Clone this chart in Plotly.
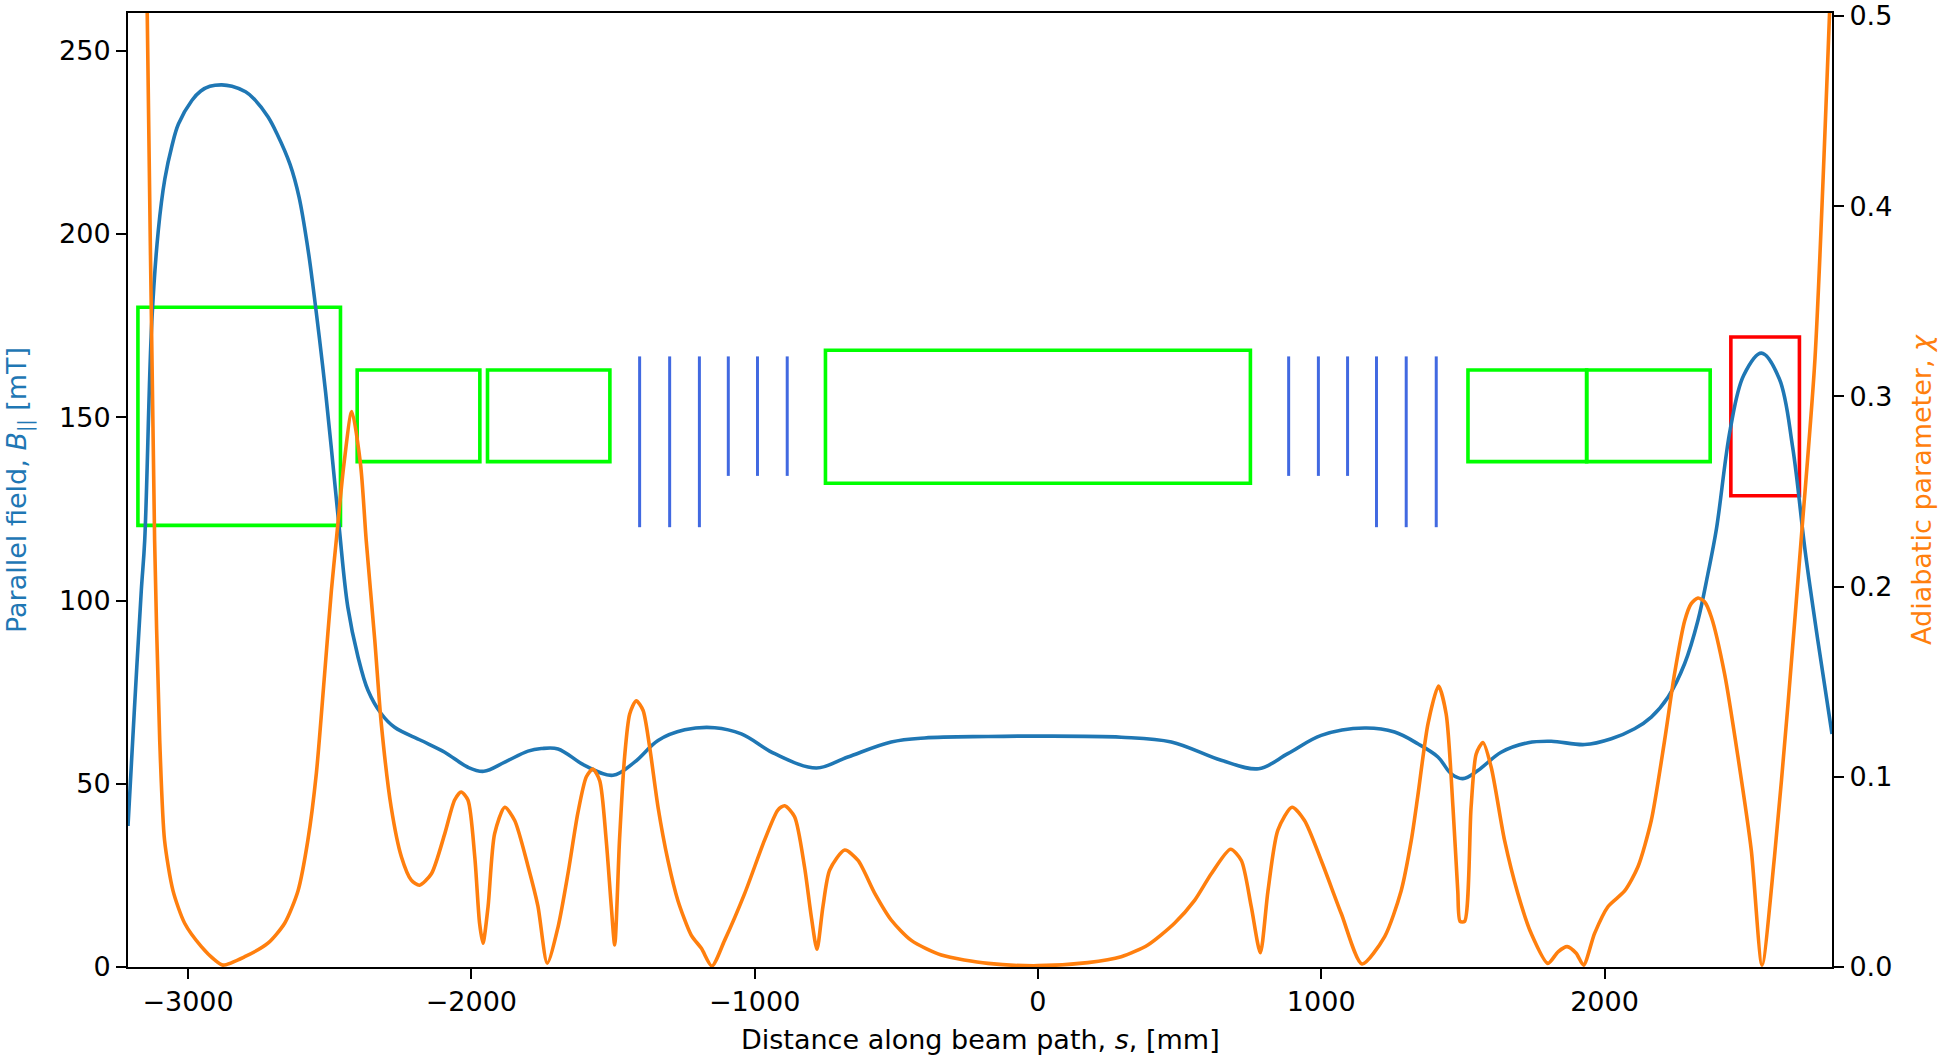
import plotly.graph_objects as go

# ---- Parallel magnetic field along the beam path ----
s_field = [-3212, -3189, -3165, -3153, -3128, -3105, -3082, -3057, -3034, -2986,
           -2955, -2923, -2881, -2845, -2797, -2766, -2718, -2687, -2640, -2608,
           -2577, -2561, -2514, -2468, -2436, -2400, -2365, -2318, -2271,
           -2177, -2094, -2012, -1956, -1882, -1800, -1753, -1694, -1600, -1500,
           -1424, -1341, -1247, -1141, -1047, -929, -782, -671, -518, -400,
           -176, 0, 294, 471, 647, 779, 882, 1000, 1153, 1259,
           1341, 1412, 1459, 1500, 1553, 1635, 1730, 1812, 1930, 2024,
           2106, 2165, 2224, 2283, 2330, 2365, 2395, 2444, 2491, 2554,
           2617, 2664, 2709, 2753, 2803]
b_field = [38.5, 70.9, 102.8, 116.4, 176.0, 201.0, 215.0, 224.0, 230.0, 236.5,
           239.0, 240.3, 240.7, 240.3, 238.8, 236.8, 232.0, 227.5, 219.0, 210.0,
           196.0, 187.0, 156.5, 121.0, 98.2, 84.6, 75.5, 69.1, 65.4,
           61.8, 58.6, 54.5, 53.4, 55.9, 58.9, 59.6, 59.5, 55.0, 52.3,
           55.9, 61.8, 64.7, 65.3, 63.6, 58.2, 54.3, 57.3, 61.4, 62.5,
           62.9, 63.0, 62.7, 61.4, 56.4, 54.1, 58.2, 63.2, 65.2, 64.1,
           60.9, 57.3, 52.7, 51.4, 53.6, 58.6, 61.2, 61.6, 60.7, 62.3,
           65.0, 68.2, 73.6, 82.8, 94.6, 107.3, 119.5, 146.8, 161.4, 167.5,
           160.5, 141.9, 113.0, 89.1, 63.6]

# ---- Adiabatic parameter along the beam path ----
s_chi = [-3212, -3144, -3118, -3100, -3083, -3053, -3012, -2953, -2906, -2877,
         -2800, -2718, -2659, -2612, -2577, -2547, -2518, -2494, -2477, -2450,
         -2422, -2391, -2371, -2341, -2318, -2283, -2247, -2212, -2183, -2141,
         -2094, -2059, -2036, -2012, -1988, -1971, -1959, -1941, -1918, -1882,
         -1847, -1800, -1765, -1732, -1694, -1659, -1624, -1594, -1571, -1547,
         -1524, -1506, -1494, -1477, -1459, -1441, -1418, -1394, -1371, -1341,
         -1306, -1271, -1224, -1188, -1151, -1106, -1035, -965, -918, -894,
         -859, -824, -800, -780, -759, -735, -682, -635, -576, -518,
         -447, -341, -176, 0, 176, 294, 388, 482, 553, 612,
         680, 718, 753, 785, 812, 847, 897, 941, 1000, 1071,
         1144, 1224, 1282, 1318, 1341, 1377, 1414, 1441, 1465, 1482,
         1490, 1506, 1529, 1547, 1571, 1600, 1647, 1694, 1741, 1800,
         1836, 1868, 1900, 1926, 1965, 2012, 2071, 2118, 2165, 2212,
         2247, 2283, 2306, 2330, 2353, 2377, 2424, 2471, 2518, 2556, 2600, 2647,
         2694, 2743, 2794, 2803]
chi = [1.19, 0.50, 0.224, 0.119, 0.0667, 0.040, 0.023, 0.0107, 0.0037, 0.001,
       0.0054, 0.0125, 0.023, 0.040, 0.0667, 0.102, 0.154, 0.198, 0.224, 0.264,
       0.292, 0.264, 0.224, 0.172, 0.128, 0.084, 0.058, 0.0457, 0.043, 0.049,
       0.070, 0.0878, 0.092, 0.0878, 0.058, 0.023, 0.0125, 0.0317, 0.070, 0.084,
       0.077, 0.053, 0.032, 0.002, 0.021, 0.049, 0.081, 0.100, 0.104, 0.098,
       0.0667, 0.0317, 0.0116, 0.0667, 0.1105, 0.133, 0.140, 0.135, 0.116, 0.084,
       0.056, 0.035, 0.0168, 0.0098, 0.0005, 0.014, 0.0387, 0.0667, 0.0825, 0.0848,
       0.079, 0.0527, 0.0264, 0.0093, 0.0317, 0.051, 0.0615, 0.056, 0.0387, 0.0247,
       0.014, 0.0063, 0.0019, 0.0007, 0.0023, 0.0054, 0.0116, 0.023, 0.035, 0.049,
       0.0619, 0.056, 0.0317, 0.0075, 0.040, 0.072, 0.084, 0.077, 0.056, 0.028,
       0.0016, 0.016, 0.040, 0.0667, 0.090, 0.128, 0.1477, 0.133, 0.084, 0.040,
       0.024, 0.024, 0.084, 0.112, 0.118, 0.105, 0.0667, 0.0387, 0.0177, 0.0019,
       0.008, 0.0107, 0.0072, 0.001, 0.0177, 0.0317, 0.040, 0.0527, 0.077, 0.119,
       0.154, 0.182, 0.191, 0.194, 0.192, 0.184, 0.154, 0.1105, 0.0615, 0.001, 0.058, 0.137,
       0.2244, 0.32, 0.50, 0.54]

# ---- Beamline elements (extent along s, and vertical extent in mT units) ----
solenoid_s0 = [-3177, -2403, -1943, -750, 1518, 1937]
solenoid_s1 = [-2462, -1970, -1511, 750, 1937, 2373]
solenoid_b0 = [120.5, 137.9, 137.9, 132.0, 137.9, 137.9]
solenoid_b1 = [180.0, 162.9, 162.9, 168.3, 162.9, 162.9]

target_s = [2446, 2688]
target_b = [128.6, 171.9]

coil_s = [-1406, -1300, -1195, -1093, -990, -885, 885, 990, 1093, 1195, 1300, 1406]
coil_b0 = [120.0, 120.0, 120.0, 134.0, 134.0, 134.0, 134.0, 134.0, 134.0, 120.0, 120.0, 120.0]
coil_b1 = [166.6] * 12

FONT = "DejaVu Sans"
FS = 27
BLUE = "#1f77b4"
ORANGE = "#ff7f0e"

fig = go.Figure()

fig.add_trace(go.Scatter(
    x=s_field, y=b_field, mode="lines", yaxis="y",
    line=dict(color=BLUE, width=3.6, shape="spline", smoothing=1.0),
    showlegend=False, hoverinfo="skip"))

fig.add_trace(go.Scatter(
    x=s_chi, y=chi, mode="lines", yaxis="y2",
    line=dict(color=ORANGE, width=3.6, shape="spline", smoothing=0.7),
    showlegend=False, hoverinfo="skip"))

shapes = []
for x0, x1, y0, y1 in zip(solenoid_s0, solenoid_s1, solenoid_b0, solenoid_b1):
    shapes.append(dict(type="rect", xref="x", yref="y", x0=x0, x1=x1, y0=y0, y1=y1,
                       line=dict(color="#00ff00", width=3.6), fillcolor="rgba(0,0,0,0)",
                       layer="below"))
shapes.append(dict(type="rect", xref="x", yref="y",
                   x0=target_s[0], x1=target_s[1], y0=target_b[0], y1=target_b[1],
                   line=dict(color="#ff0000", width=3.6), fillcolor="rgba(0,0,0,0)",
                   layer="below"))
for xc, y0, y1 in zip(coil_s, coil_b0, coil_b1):
    shapes.append(dict(type="line", xref="x", yref="y", x0=xc, x1=xc, y0=y0, y1=y1,
                       line=dict(color="#4169e1", width=3), layer="below"))

axis_common = dict(
    showline=True, linecolor="black", linewidth=2,
    ticks="outside", ticklen=10, tickwidth=2, tickcolor="black",
    showgrid=False, zeroline=False, automargin=False,
    tickfont=dict(family=FONT, size=FS, color="black"),
)

fig.update_layout(
    width=1939, height=1056,
    margin=dict(l=128, r=107, t=13, b=89),
    paper_bgcolor="white", plot_bgcolor="white",
    font=dict(family=FONT, size=FS, color="black"),
    shapes=shapes,
    xaxis=dict(range=[-3212, 2803], tickvals=[-3000, -2000, -1000, 0, 1000, 2000],
               mirror=True, **axis_common),
    yaxis=dict(range=[0, 260.3], tickvals=[0, 50, 100, 150, 200, 250], **axis_common),
    yaxis2=dict(range=[0, 0.5015], tickvals=[0, 0.1, 0.2, 0.3, 0.4, 0.5], tickformat=".1f",
                overlaying="y", side="right", **axis_common),
    annotations=[
        dict(text="Distance along beam path, <i>s</i>, [mm]", xref="paper", yref="paper",
             x=0.5, y=0, xanchor="center", yanchor="top", yshift=-55, showarrow=False,
             font=dict(family=FONT, size=FS, color="black")),
        dict(text="Parallel field, <i>B</i><sub>||</sub> [mT]", xref="paper", yref="paper",
             x=0, y=0.5, xanchor="center", yanchor="middle", xshift=-109, textangle=-90,
             showarrow=False, font=dict(family=FONT, size=FS, color=BLUE)),
        dict(text="Adiabatic parameter, <i>χ</i>", xref="paper", yref="paper",
             x=1, y=0.5, xanchor="center", yanchor="middle", xshift=89, textangle=-90,
             showarrow=False, font=dict(family=FONT, size=FS, color=ORANGE)),
    ],
)

fig.write_html("out.html", config={"displayModeBar": False})
